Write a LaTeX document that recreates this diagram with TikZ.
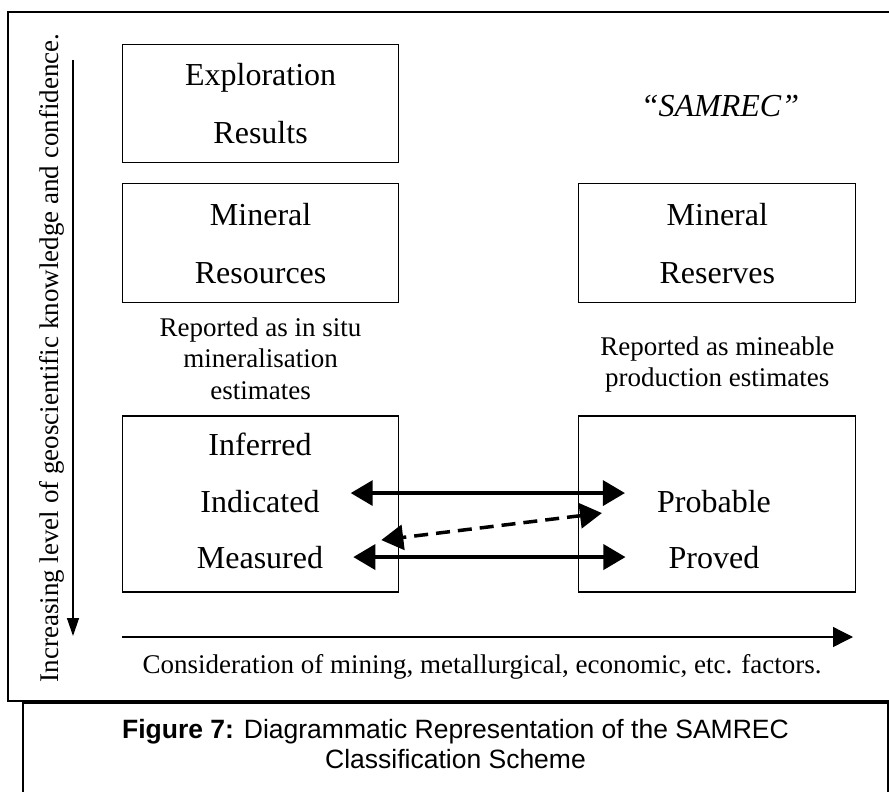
\documentclass[tikz,border=0pt]{standalone}
\usepackage{fontspec}
\setmainfont{Liberation Serif}
\newfontfamily\captionfont{Liberation Sans}
\usetikzlibrary{positioning, calc, arrows.meta}

\begin{document}
\begin{tikzpicture}[x=1pt, y=-1pt,
  category/.style={rectangle, 
      draw, 
      line width=1.2pt, 
      minimum width=276pt, 
      align=center, 
      inner sep=0pt, 
      font=\fontsize{32pt}{58pt}\selectfont},
  grade/.style={inner sep=0pt, 
      font=\fontsize{32pt}{38pt}\selectfont},
  note/.style={inner sep=0pt, 
      align=center, 
      font=\fontsize{27pt}{31.5pt}\selectfont},
  link/.style={line width=3.5pt, 
      {Triangle[length=22pt,width=25pt]}-{Triangle[length=22pt,width=25pt]}},
  axis/.style={line width=1.3pt}]
  \useasboundingbox (0,0) rectangle (889,792);

  % FRAMES

  \draw[line width=1.3pt] (889,12) -- (8,12) -- (8,701) -- (889,701);
  \draw[line width=1.6pt] (23,792) -- (23,703) -- (888,703) -- (888,792);

  % CATEGORIES

  \node [category, 
    minimum height=118pt, 
    anchor=north west] (exploration) at (122,44) {Exploration\\Results};

  \node [category, 
    minimum height=119pt, 
    below=20pt of exploration] (resources) {Mineral\\Resources};

  \node [category, 
    minimum width=277pt, 
    minimum height=119pt, 
    right=179pt of resources] (reserves) {Mineral\\Reserves};

  \node [category, 
    minimum height=176pt, 
    below=112pt of resources] (resourcegrades) {};

  \node [category, 
    minimum width=277pt, 
    minimum height=176pt, 
    below=112pt of reserves] (reservegrades) {};

  \node [grade, font=\fontsize{32pt}{38pt}\selectfont\itshape, 
    anchor=base] (samrec) at (720,117) {``SAMREC''};

  % NOTES

  \node [note, below=14pt of resources] (insitunote) 
    {Reported as in situ\\mineralisation\\estimates};

  \node [note, below=33pt of reserves] (mineablenote) 
    {Reported as mineable\\production estimates};

  % GRADES

  \node [grade, anchor=base] (inferred) at (260,455) {Inferred};
  \node [grade, anchor=base] (indicated) at (260,512) {Indicated};
  \node [grade, anchor=base] (measured) at (260,568) {Measured};
  \node [grade, anchor=base] (probable) at (714,512) {Probable};
  \node [grade, anchor=base] (proved) at (714,568) {Proved};

  \draw[link] ([shift={(31pt,8pt)}]indicated.east) 
    -- ([shift={(-32pt,8pt)}]probable.west);

  \draw[link] ([xshift=30pt]measured.east) 
    -- ([xshift=-43pt]proved.west);

  \draw[link, dash pattern=on 14pt off 8pt] 
    ([shift={(-55pt,-12pt)}]probable.west) 
    -- ([shift={(58pt,17pt)}]measured.east);

  % AXES

  \coordinate (knowledgetop) at (73,60);
  \coordinate (knowledgebottom) at (73,636);
  \coordinate (factorsleft) at (122,637);
  \coordinate (factorsright) at (853,637);

  \draw[axis, -{Triangle[length=18pt,width=12pt]}] (knowledgetop) -- (knowledgebottom);
  \draw[axis, -{Triangle[length=20pt,width=20pt]}] (factorsleft) -- (factorsright);

  \node [note, rotate=90] (knowledgelabel) at (52,358) 
    {Increasing level of geoscientific knowledge and confidence.};

  \node [note] (factorslabel) at (482,667) 
    {Consideration of mining, metallurgical, economic, etc. factors.};

  % CAPTION

  \node [inner sep=0pt, 
    align=center, 
    anchor=north, 
    font=\captionfont\fontsize{26.5pt}{30pt}\selectfont] (caption) at (455.5,719) 
    {\textbf{Figure 7:} Diagrammatic Representation of the SAMREC\\Classification Scheme};

\end{tikzpicture}
\end{document}
